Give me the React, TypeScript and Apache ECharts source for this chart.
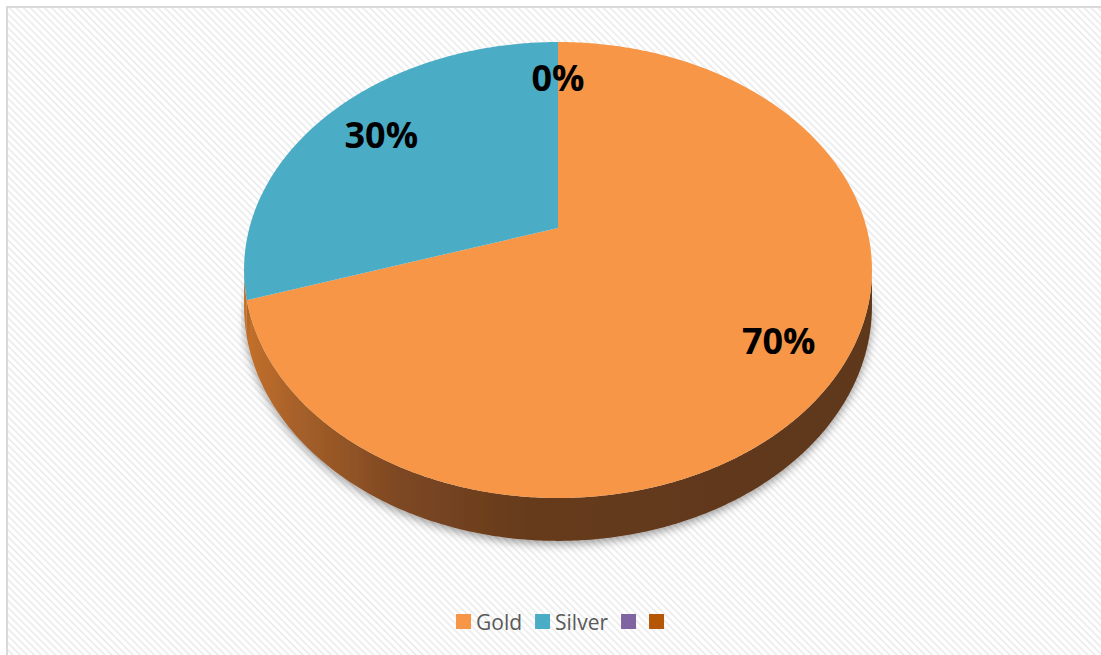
import React, { useEffect, useRef } from "react";
import * as echarts from "echarts";

// ---- data ----
const categories = ["Gold", "Silver", "", ""];
const values = [70, 30, 0, 0];
const colors = ["#F79646", "#4BACC6", "#8064A2", "#B65708"];

// ---- 3D projection constants (layout) ----
const CX = 558;
const KX = 308.6;
const KA = 178.26;
const KB = 228;
const KC = -0.1842;
const DEPTH = 35;
const LABEL_R = 0.79;
const LABEL_DX = 5;
const SIDE_FROM = 100.6;
const SIDE_TO = 259.4;

function proj(u: number, v: number): number[] {
  const w = 1 + KC * v;
  return [CX + (KX * u) / w, (KA * v + KB) / w];
}
function rim(t: number, r = 1): number[] {
  const a = (t * Math.PI) / 180;
  return proj(Math.sin(a) * r, -Math.cos(a) * r);
}
function depthAt(t: number): number {
  const a = (t * Math.PI) / 180;
  return DEPTH / (1 + KC * -Math.cos(a));
}

const total = values.reduce((a, b) => a + b, 0);

function makeRender(i: number) {
  return (params: any, api: any) => {
    const val = api.value(0) as number;
    const before = values.slice(0, i).reduce((a, b) => a + b, 0);
    const start = (before / total) * 360;
    const end = start + (val / total) * 360;
    const children: any[] = [];
    if (val > 0) {
      const top: number[][] = [proj(0, 0)];
      for (let t = start; t < end; t += 0.5) top.push(rim(t));
      top.push(rim(end));
      children.push({
        type: "polygon",
        shape: { points: top },
        style: { fill: colors[i] },
        z2: 10,
      });
      const s = Math.max(start, SIDE_FROM);
      const e = Math.min(end, SIDE_TO);
      if (e > s) {
        const upper: number[][] = [];
        const lower: number[][] = [];
        for (let t = s; t < e; t += 0.5) {
          const p = rim(t);
          upper.push(p);
          lower.push([p[0], p[1] + depthAt(t)]);
        }
        const pe = rim(e);
        upper.push(pe);
        lower.push([pe[0], pe[1] + depthAt(e)]);
        children.push({
          type: "polygon",
          shape: { points: upper.concat(lower.reverse()) },
          style: {
            fill: {
              type: "linear",
              x: 244,
              y: 0,
              x2: 872,
              y2: 0,
              global: true,
              colorStops: [
                { offset: 0, color: "#C4712C" },
                { offset: 0.08, color: "#A8612A" },
                { offset: 0.25, color: "#7C4722" },
                { offset: 0.45, color: "#663B1D" },
                { offset: 1, color: "#5F371B" },
              ],
            },
            shadowBlur: 10,
            shadowColor: "rgba(0,0,0,0.4)",
            shadowOffsetY: 3,
          },
          z2: 1,
        });
      }
    }
    const mid = (start + end) / 2;
    const lp = rim(mid === 0 ? 360 : mid, LABEL_R);
    const pct = Math.round((val / total) * 100);
    if (!(val === 0 && i > 0 && values[i - 1] === 0)) {
      children.push({
        type: "text",
        style: {
          text: `${pct}%`,
          x: lp[0] + (val > 0 ? LABEL_DX : 0),
          y: lp[1] + 1,
          align: "center",
          verticalAlign: "middle",
          fill: "#000000",
          font: "bold 36px 'Open Sans', sans-serif",
        },
        z2: 20,
      });
    }
    return { type: "group", children };
  };
}

const seriesNames = categories.map((c, i) => c || `Series ${i + 1}`);

export default function App() {
  const ref = useRef<HTMLDivElement>(null);
  useEffect(() => {
    if (!ref.current) return;
    const chart = echarts.init(ref.current, undefined, { renderer: "svg" });
    chart.setOption({
      animation: false,
      backgroundColor: "transparent",
      legend: {
        left: 451,
        top: 606,
        icon: "rect",
        itemWidth: 15,
        itemHeight: 15,
        itemGap: 13,
        data: seriesNames,
        formatter: (n: string) => categories[seriesNames.indexOf(n)],
        textStyle: { fontFamily: "'Open Sans', sans-serif", fontSize: 21, color: "#595959" },
      },
      graphic: [
        {
          type: "rect",
          shape: { x: 7, y: 7, width: 1110, height: 670 },
          style: { fill: "none", stroke: "#d9d9d9", lineWidth: 2 },
          silent: true,
        },
      ],
      series: values.map((v, i) => ({
        type: "custom",
        name: seriesNames[i],
        coordinateSystem: "none",
        itemStyle: { color: colors[i] },
        renderItem: makeRender(i),
        data: [[v]],
      })),
    });
    return () => chart.dispose();
  }, []);
  return (
    <div style={{ position: "absolute", left: 0, top: 0, width: 1101, height: 655, background: "#ffffff", overflow: "hidden" }}>
      <div
        style={{
          position: "absolute",
          left: 8,
          top: 8,
          width: 1093,
          height: 647,
          background:
            "repeating-linear-gradient(45deg, #ffffff 0px, #ffffff 2px, #e9e9e9 3.5px, #ffffff 5px)",
        }}
      />
      <div ref={ref} style={{ position: "absolute", left: 0, top: 0, width: 1101, height: 655 }} />
    </div>
  );
}
